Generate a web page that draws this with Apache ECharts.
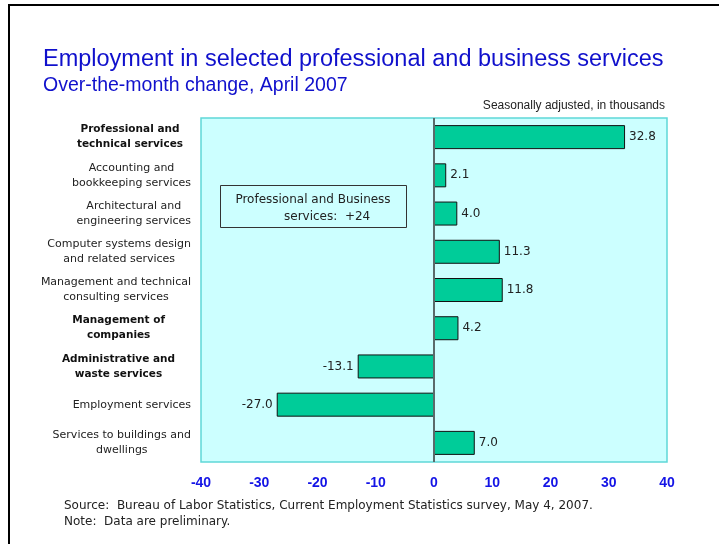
<!DOCTYPE html>
<html>
<head>
<meta charset="utf-8">
<script src="https://cdn.jsdelivr.net/npm/echarts@6/dist/echarts.min.js"></script>
<style>
  html, body { margin: 0; padding: 0; background: #fff; }
  #chart { width: 719px; height: 544px; }
</style>
</head>
<body>
<div id="chart"></div>
<script>
  // categories, top to bottom
  const categories = [
    'Professional and\ntechnical services',
    'Accounting and\nbookkeeping services',
    'Architectural and\nengineering services',
    'Computer systems design\nand related services',
    'Management and technical\nconsulting services',
    'Management of\ncompanies',
    'Administrative and\nwaste services',
    'Employment services',
    'Services to buildings and\ndwellings'
  ];
  // bold rows are the larger industry groups
  const boldRows = [0, 5, 6];
  // over-the-month change, thousands
  const changes = [32.8, 2.1, 4.0, 11.3, 11.8, 4.2, -13.1, -27.0, 7.0];
  const xTicks = [-40, -30, -20, -10, 0, 10, 20, 30, 40];

  const chart = echarts.init(document.getElementById('chart'));

  const boldStyle = {fontFamily: 'DejaVu Sans', fontSize: 10.5, fontWeight: 'bold', color: '#111', align: 'center', lineHeight: 15};

  const option = {
    animation: false,
    title: [
      {
        text: 'Employment in selected professional and business services',
        left: 38, top: 43,
        textStyle: {fontFamily: 'Liberation Sans', fontSize: 23.5, fontWeight: 'normal', color: '#1010cc'}
      },
      {
        text: 'Over-the-month change, April 2007',
        left: 38, top: 71,
        textStyle: {fontFamily: 'Liberation Sans', fontSize: 19.5, fontWeight: 'normal', color: '#1010cc'}
      },
      {
        text: 'Seasonally adjusted, in thousands',
        right: 49, top: 95,
        textStyle: {fontFamily: 'Liberation Sans', fontSize: 12, fontWeight: 'normal', color: '#222'}
      }
    ],
    grid: {
      left: 201, right: 52, top: 118, bottom: 82,
      show: true,
      backgroundColor: '#ccffff',
      borderColor: '#5fd8d8',
      borderWidth: 1.5
    },
    xAxis: {
      type: 'value',
      min: xTicks[0],
      max: xTicks[xTicks.length - 1],
      interval: 10,
      axisLine: {show: false},
      axisTick: {show: false},
      splitLine: {show: false},
      axisLabel: {
        margin: 14,
        fontFamily: 'Liberation Sans',
        fontSize: 14,
        fontWeight: 'bold',
        color: '#1414e6'
      }
    },
    yAxis: {
      type: 'category',
      inverse: true,
      data: categories,
      axisLine: {show: false},
      axisTick: {show: false},
      axisLabel: {
        margin: 10,
        formatter: function (val, idx) {
          let st = boldRows.indexOf(idx) >= 0 ? 'b' + idx : 'n';
          return val.split('\n').map(l => '{' + st + '|' + l + '}').join('\n');
        },
        rich: {
          n: {fontFamily: 'DejaVu Sans', fontSize: 11, color: '#222', align: 'center', lineHeight: 15},
          b0: Object.assign({padding: [0, 8, 0, 0]}, boldStyle),
          b5: Object.assign({padding: [0, 26, 0, 0]}, boldStyle),
          b6: Object.assign({padding: [0, 16, 0, 0]}, boldStyle)
        }
      }
    },
    series: [{
      type: 'bar',
      // labels of negative bars go on the left
      data: changes.map(v => v < 0 ? {value: v, label: {position: 'left'}} : v),
      barWidth: 24,
      itemStyle: {color: '#00cc99', borderColor: '#111', borderWidth: 1},
      label: {
        show: true,
        position: 'right',
        distance: 4,
        fontFamily: 'DejaVu Sans',
        fontSize: 12,
        color: '#222',
        formatter: p => p.value.toFixed(1)
      },
      markLine: {
        silent: true,
        symbol: 'none',
        label: {show: false},
        lineStyle: {color: '#5a6a6a', width: 2, type: 'solid'},
        data: [{xAxis: 0}]
      },
      z: 3
    }],
    graphic: [
      // frame edges
      {type: 'line', shape: {x1: 8, y1: 5, x2: 719, y2: 5}, style: {stroke: '#000', lineWidth: 2}},
      {type: 'line', shape: {x1: 9, y1: 5, x2: 9, y2: 544}, style: {stroke: '#000', lineWidth: 2}},
      // note box
      {
        type: 'rect', left: 220, top: 185, z: 10,
        shape: {width: 186, height: 42},
        style: {fill: 'rgba(0,0,0,0)', stroke: '#333', lineWidth: 1}
      },
      {
        type: 'text', x: 313, y: 194, z: 11,
        style: {text: 'Professional and Business', font: '12px "DejaVu Sans"', fill: '#222', textAlign: 'center'}
      },
      {
        type: 'text', x: 284, y: 211, z: 11,
        style: {text: 'services:  +24', font: '12px "DejaVu Sans"', fill: '#222', textAlign: 'left'}
      },
      {
        type: 'text', left: 64, top: 498,
        style: {
          text: 'Source:  Bureau of Labor Statistics, Current Employment Statistics survey, May 4, 2007.\nNote:  Data are preliminary.',
          font: '12px "DejaVu Sans"', fill: '#222', lineHeight: 16
        }
      }
    ]
  };

  chart.setOption(option);
</script>
</body>
</html>
